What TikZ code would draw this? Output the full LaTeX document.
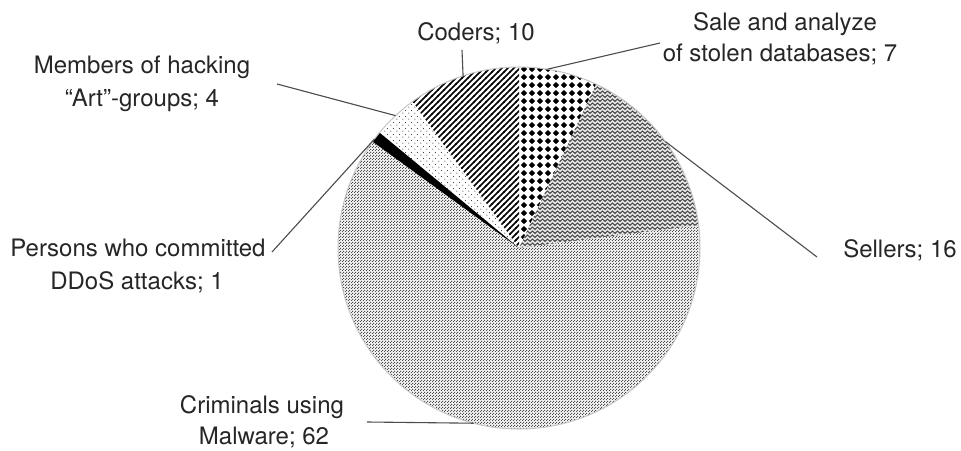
\documentclass[tikz,border=0pt]{standalone}
\usepackage{fontspec}
\setmainfont{TeX Gyre Heros}
\usetikzlibrary{patterns}
% Coders: north-east stripes
\pgfdeclarepatternformonly{codstripes}{\pgfqpoint{-1pt}{-1pt}}{\pgfqpoint{7pt}{7pt}}{\pgfqpoint{6pt}{6pt}}{%
  \pgfsetlinewidth{1.6pt}%
  \pgfpathmoveto{\pgfqpoint{-0.5pt}{-0.5pt}}%
  \pgfpathlineto{\pgfqpoint{6.5pt}{6.5pt}}%
  \pgfusepath{stroke}}
% Sale: grid of black diamonds
\pgfdeclarepatternformonly{salediam}{\pgfqpoint{0pt}{0pt}}{\pgfqpoint{8.4pt}{8.4pt}}{\pgfqpoint{8.4pt}{8.4pt}}{%
  \pgfpathmoveto{\pgfqpoint{4.2pt}{0.9pt}}%
  \pgfpathlineto{\pgfqpoint{7.5pt}{4.2pt}}%
  \pgfpathlineto{\pgfqpoint{4.2pt}{7.5pt}}%
  \pgfpathlineto{\pgfqpoint{0.9pt}{4.2pt}}%
  \pgfpathclose
  \pgfpathcircle{\pgfqpoint{4.2pt}{4.2pt}}{2.5pt}%
  \pgfusepath{fill}}
% Sellers: zigzag / herringbone
\pgfdeclarepatternformonly{sellzig}{\pgfqpoint{-0.5pt}{-0.5pt}}{\pgfqpoint{5.5pt}{4.5pt}}{\pgfqpoint{5pt}{4pt}}{%
  \pgfsetlinewidth{0.9pt}%
  \pgfpathmoveto{\pgfqpoint{-0.4pt}{0.3pt}}%
  \pgfpathlineto{\pgfqpoint{2.5pt}{3pt}}%
  \pgfpathlineto{\pgfqpoint{5.4pt}{0.3pt}}%
  \pgfusepath{stroke}}
% Criminals: fine checker dots
\pgfdeclarepatternformonly{crimdots}{\pgfqpoint{0pt}{0pt}}{\pgfqpoint{3pt}{3pt}}{\pgfqpoint{3pt}{3pt}}{%
  \pgfpathrectangle{\pgfqpoint{0pt}{0pt}}{\pgfqpoint{1.2pt}{1.2pt}}%
  \pgfpathrectangle{\pgfqpoint{1.5pt}{1.5pt}}{\pgfqpoint{1.2pt}{1.2pt}}%
  \pgfusepath{fill}}
% Art: sparse dots
\pgfdeclarepatternformonly{artdots}{\pgfqpoint{0pt}{0pt}}{\pgfqpoint{6pt}{6pt}}{\pgfqpoint{6pt}{6pt}}{%
  \pgfpathcircle{\pgfqpoint{1pt}{1pt}}{0.6pt}%
  \pgfpathcircle{\pgfqpoint{4pt}{4pt}}{0.6pt}%
  \pgfusepath{fill}}
\begin{document}
\begin{tikzpicture}[x=1pt,y=1pt,
  lbl/.style={font=\fontsize{24}{33}\selectfont, text=black!85, inner sep=0pt, anchor=base},
  leader/.style={draw=black!70, line width=1.1pt}]
\useasboundingbox[fill=white] (0,0) rectangle (961,450);
\coordinate (c) at (519,202);
\def\R{181}
% slices
\path[pattern=codstripes] (c) -- ++(90:\R) arc[start angle=90,end angle=126,radius=\R] -- cycle;
\path[pattern=salediam] (c) -- ++(64.8:\R) arc[start angle=64.8,end angle=90,radius=\R] -- cycle;
\path[preaction={fill=gray!22}, pattern=sellzig, pattern color=black!75] (c) -- ++(7.2:\R) arc[start angle=7.2,end angle=64.8,radius=\R] -- cycle;
\path[preaction={fill=gray!12}, pattern=crimdots, pattern color=black!70] (c) -- ++(144:\R) arc[start angle=144,end angle=367.2,radius=\R] -- cycle;
\path[fill=black] (c) -- ++(140.4:\R) arc[start angle=140.4,end angle=144,radius=\R] -- cycle;
\path[pattern=artdots, pattern color=black!80] (c) -- ++(126:\R) arc[start angle=126,end angle=140.4,radius=\R] -- cycle;
\draw[gray!45, line width=1pt] (c) circle[radius=\R];
% labels
\node[lbl] (coders) at (476,409) {Coders; 10};
\node[lbl] (sale1) at (785,419) {Sale and analyze};
\node[lbl] (sale2) at (780,388) {of stolen databases; 7};
\node[lbl] (art1) at (142,376) {Members of hacking};
\node[lbl] (art2) at (142,343) {“Art”-groups; 4};
\node[lbl] (ddos1) at (138,193) {Persons who committed};
\node[lbl] (ddos2) at (137,160) {DDoS attacks; 1};
\node[lbl] (sellers) at (900,192) {Sellers; 16};
\node[lbl] (crim1) at (262,37) {Criminals using};
\node[lbl] (crim2) at (264,6) {Malware; 62};
% leader ends
\coordinate (lcod) at (462,400);
\coordinate (pcod) at ([shift={(108:\R)}]c);
\coordinate (lsale) at (660,407);
\coordinate (psale) at ([shift={(81:\R)}]c);
\coordinate (lart) at (277,366);
\coordinate (part) at ([shift={(133:\R)}]c);
\coordinate (lddos) at (272,198);
\coordinate (pddos) at ([shift={(143:\R)}]c);
\coordinate (lsell) at (817,193);
\coordinate (psell) at ([shift={(36:\R)}]c);
\coordinate (lcrim) at (367,28);
\coordinate (pcrim) at ([shift={(255.5:\R)}]c);
\draw[leader] (lcod) -- (pcod);
\draw[leader] (lsale) -- (psale);
\draw[leader] (lart) -- (part);
\draw[leader] (lddos) -- (pddos);
\draw[leader] (lsell) -- (psell);
\draw[leader] (lcrim) -- (pcrim);
\end{tikzpicture}
\end{document}
